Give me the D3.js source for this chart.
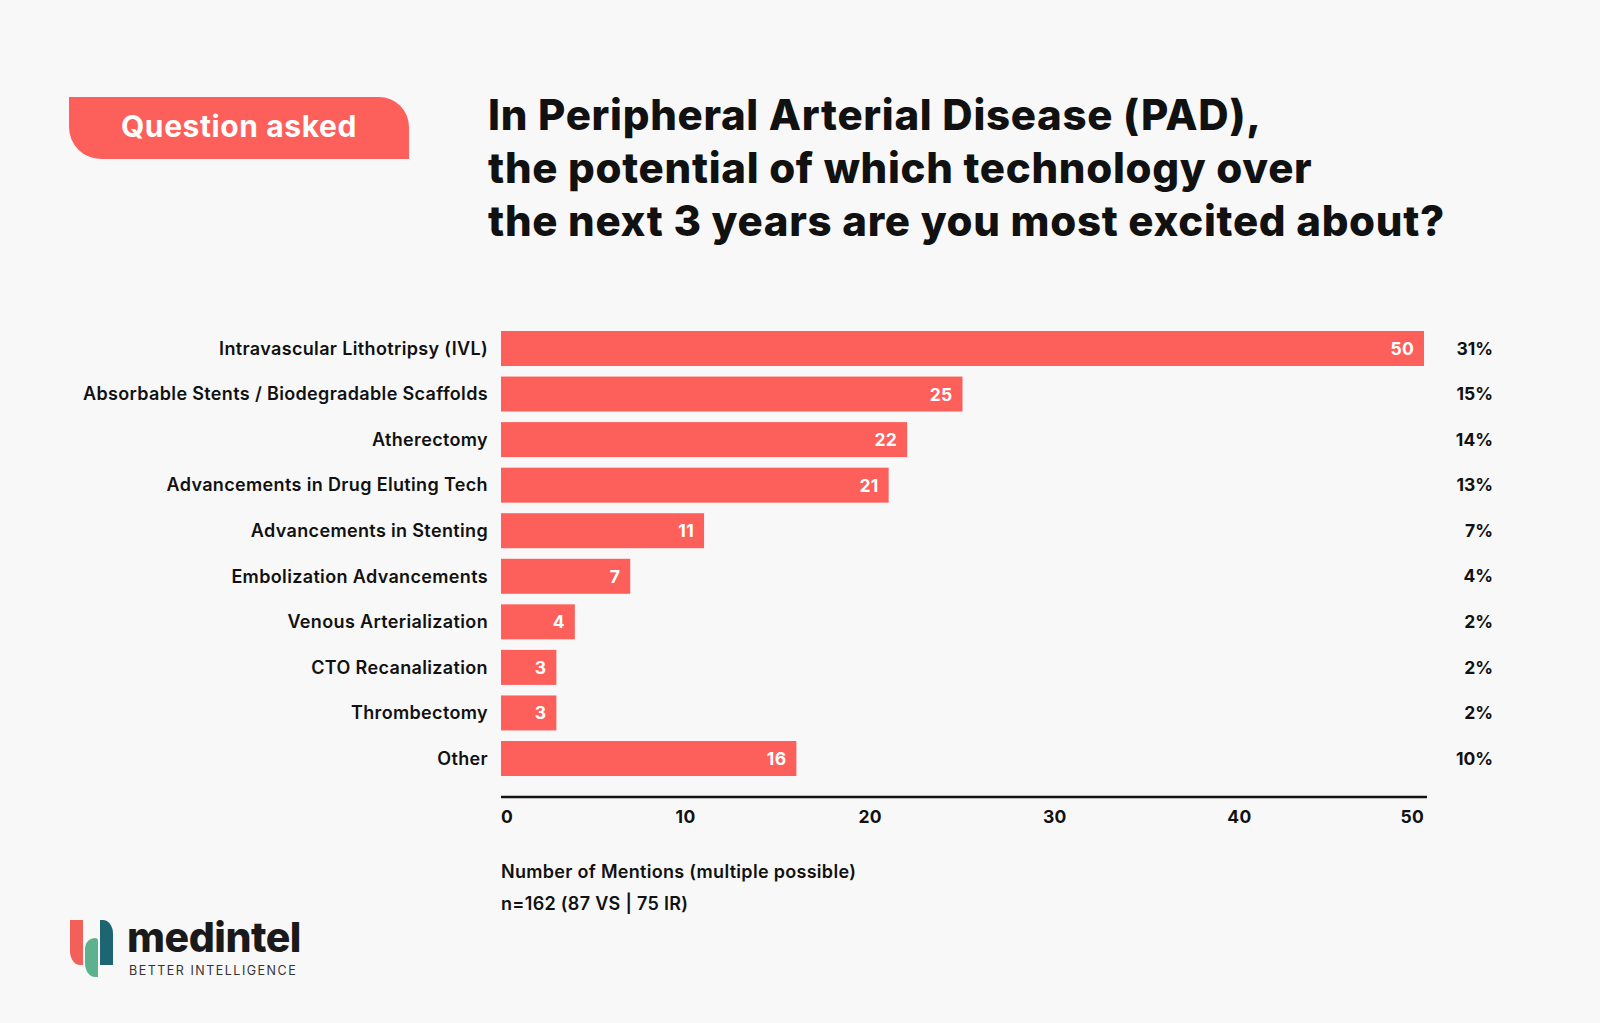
<!DOCTYPE html>
<html>
	<head>
		<title>PAD technology survey</title>
		<script src="https://d3js.org/d3.v7.min.js"></script>
		<style>
			html, body { margin: 0; padding: 0; background: #f8f8f8; }
			svg { display: block; font-family: Inter, Lato, sans-serif; }
		</style>
	</head>
	<body>
		<svg id="chart" width="1600" height="1023"></svg>
		<script>
			// data
			var categories = [
				"Intravascular Lithotripsy (IVL)",
				"Absorbable Stents / Biodegradable Scaffolds",
				"Atherectomy",
				"Advancements in Drug Eluting Tech",
				"Advancements in Stenting",
				"Embolization Advancements",
				"Venous Arterialization",
				"CTO Recanalization",
				"Thrombectomy",
				"Other"
			];
			var mentions = [50, 25, 22, 21, 11, 7, 4, 3, 3, 16];
			var shares = ["31%", "15%", "14%", "13%", "7%", "4%", "2%", "2%", "2%", "10%"];
			var xTicks = [0, 10, 20, 30, 40, 50];

			var titleLines = [
				"In Peripheral Arterial Disease (PAD),",
				"the potential of which technology over",
				"the next 3 years are you most excited about?"
			];
			var notes = ["Number of Mentions (multiple possible)", "n=162 (87 VS | 75 IR)"];

			var red = "#fd5f5a";
			var ink = "#111111";

			var svg = d3.select("#chart");

			svg.append("rect")
				.attr("width", 1600).attr("height", 1023)
				.attr("fill", "#f8f8f8");

			/*** badge ***/
			var badge = svg.append("g");
			badge.append("path")
				.attr("fill", red)
				.attr("d", "M69,97 H379 A30,30 0 0 1 409,127 V159 H101 A32,32 0 0 1 69,127 Z");
			badge.append("text")
				.attr("x", 239).attr("y", 137)
				.attr("text-anchor", "middle")
				.attr("fill", "#ffffff")
				.attr("font-size", 30)
				.attr("font-weight", 700)
				.attr("letter-spacing", 0.6)
				.text("Question asked");

			/*** title ***/
			svg.append("g").selectAll("text")
				.data(titleLines)
				.enter()
				.append("text")
				.attr("x", 488)
				.attr("y", function(d, i) { return 130 + i * 53; })
				.attr("fill", ink)
				.attr("font-size", 42)
				.attr("font-weight", 800)
				.attr("letter-spacing", 0.7)
				.text(function(d) { return d; });

			/*** bars ***/
			var x = d3.scaleLinear().domain([0, 50]).range([501, 1424]);
			var y = d3.scaleBand().domain(categories).range([331, 776]).paddingInner(0.232);

			var rows = svg.append("g").selectAll("g")
				.data(categories)
				.enter()
				.append("g");

			rows.append("rect")
				.attr("x", x(0))
				.attr("y", function(d) { return y(d); })
				.attr("width", function(d, i) { return x(mentions[i]) - x(0); })
				.attr("height", y.bandwidth())
				.attr("fill", red);

			rows.append("text")
				.attr("x", 488)
				.attr("y", function(d) { return y(d) + y.bandwidth() / 2; })
				.attr("dy", "0.35em")
				.attr("text-anchor", "end")
				.attr("fill", ink)
				.attr("font-size", 18)
				.attr("font-weight", 600)
				.attr("letter-spacing", 0.35)
				.text(function(d) { return d; });

			rows.append("text")
				.attr("x", function(d, i) { return x(mentions[i]) - 10; })
				.attr("y", function(d) { return y(d) + y.bandwidth() / 2; })
				.attr("dy", "0.37em")
				.attr("text-anchor", "end")
				.attr("fill", "#ffffff")
				.attr("font-size", 17.5)
				.attr("font-weight", 700)
				.attr("letter-spacing", 0.3)
				.text(function(d, i) { return mentions[i]; });

			rows.append("text")
				.attr("x", 1493)
				.attr("y", function(d) { return y(d) + y.bandwidth() / 2; })
				.attr("dy", "0.35em")
				.attr("text-anchor", "end")
				.attr("fill", ink)
				.attr("font-size", 17.5)
				.attr("font-weight", 700)
				.text(function(d, i) { return shares[i]; });

			/*** axis ***/
			var axis = svg.append("g").attr("transform", "translate(0,797)");
			axis.append("line")
				.attr("x1", x(0)).attr("x2", 1427)
				.attr("stroke", ink)
				.attr("stroke-width", 2.6);
			axis.selectAll("text")
				.data(xTicks)
				.enter()
				.append("text")
				.attr("x", function(d) { return x(d); })
				.attr("y", 26)
				.attr("text-anchor", function(d, i) { return i == 0 ? "start" : (i == xTicks.length - 1 ? "end" : "middle"); })
				.attr("fill", ink)
				.attr("font-size", 17.5)
				.attr("font-weight", 700)
				.attr("letter-spacing", 0.3)
				.text(function(d) { return d; });

			svg.append("g").selectAll("text")
				.data(notes)
				.enter()
				.append("text")
				.attr("x", 501)
				.attr("y", function(d, i) { return 878 + i * 32; })
				.attr("fill", ink)
				.attr("font-size", 18)
				.attr("font-weight", 600)
				.attr("letter-spacing", 0.3)
				.text(function(d) { return d; });

			/*** logo ***/
			var logo = svg.append("g");
			logo.append("path").attr("fill", "#f2605a")
				.attr("d", "M70,920 H83 V965 H80 A10,14 0 0 1 70,951 Z");
			logo.append("path").attr("fill", "#5db18f")
				.attr("d", "M95,938 A3,3 0 0 1 98,941 V977 H95 A10,14 0 0 1 85,963 V948 A10,10 0 0 1 95,938 Z");
			logo.append("path").attr("fill", "#1d6571")
				.attr("d", "M100,920 H103 A10,14 0 0 1 113,934 V965 H100 Z");
			logo.append("text")
				.attr("x", 127).attr("y", 952)
				.attr("fill", "#1a1a1a")
				.attr("font-size", 41)
				.attr("font-weight", 800)
				.attr("letter-spacing", -0.5)
				.text("medintel");
			logo.append("text")
				.attr("x", 129).attr("y", 975)
				.attr("fill", "#333333")
				.attr("font-size", 12.5)
				.attr("letter-spacing", 1.5)
				.text("BETTER INTELLIGENCE");
		</script>
	</body>
</html>
